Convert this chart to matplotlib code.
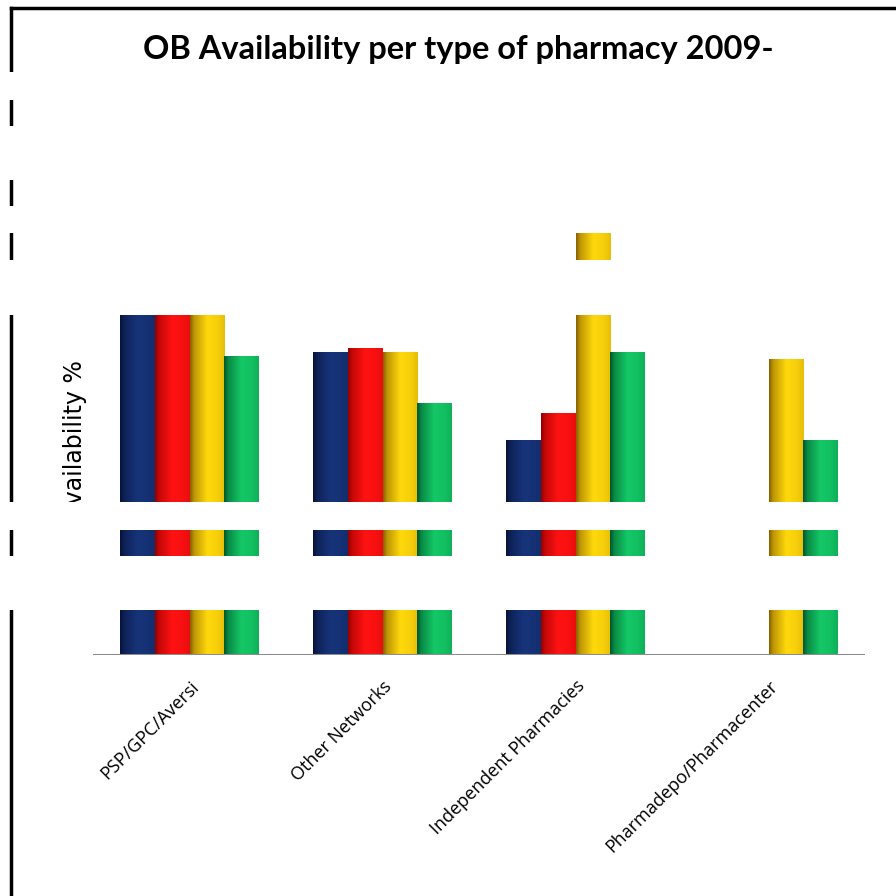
import numpy as np
import matplotlib
matplotlib.use("Agg")
import matplotlib.pyplot as plt
from matplotlib.colors import LinearSegmentedColormap
from matplotlib.patches import Rectangle
from matplotlib.lines import Line2D

categories = ["PSP/GPC/Aversi", "Other Networks", "Independent Pharmacies", "Pharmadepo/Pharmacenter"]
series_names = ["Series 1", "Series 2", "Series 3", "Series 4"]
series1 = [53.0, 46.8, 33.1, 0.0]
series2 = [53.0, 47.4, 37.4, 0.0]
series3 = [53.0, 46.8, 65.1, 45.6]
series4 = [46.1, 38.9, 46.7, 33.1]
title = "OB Availability per type of pharmacy 2009-"
ylabel = "Availability %"

W = H = 896
fig = plt.figure(figsize=(8.96, 8.96), dpi=100)
fig.patch.set_facecolor("white")


def fx(px):
    return px / W


def fy(py):
    return 1 - py / H


ax = fig.add_axes([fx(93), fy(655), fx(865) - fx(93), fy(8) - fy(655)])
ax.set_xlim(0, 4)
ax.set_ylim(0, 100)
for s in ax.spines.values():
    s.set_visible(False)
ax.set_yticks([])
ax.patch.set_alpha(0)

shades = [("#06133a", "#17347a"), ("#960000", "#ff1212"),
          ("#8a6200", "#ffd80c"), ("#00572a", "#14c866")]
prof_x = np.linspace(0, 1, 64)
prof = np.interp(prof_x, [0, 0.12, 0.5, 0.8, 1.0], [0.0, 0.45, 1.0, 0.92, 0.78])
grad = prof[np.newaxis, :]

series = [series1, series2, series3, series4]
nser = len(series)
bw = 0.725 / nser
centers = np.arange(len(categories)) + 0.5
for i, vals in enumerate(series):
    xs = centers - 0.725 / 2 + bw * (i + 0.5)
    bars = ax.bar(xs, vals, bw, color="none", edgecolor="none", label=series_names[i])
    cmap = LinearSegmentedColormap.from_list(f"c{i}", list(shades[i]))
    for r in bars:
        h = r.get_height()
        if h <= 0:
            continue
        x0 = r.get_x()
        ax.imshow(grad, extent=(x0, x0 + r.get_width(), 0, h), aspect="auto",
                  cmap=cmap, vmin=0, vmax=1, interpolation="bilinear", zorder=2)
ax.set_xlim(0, 4)
ax.set_ylim(0, 100)
ax.set_aspect("auto")
ax.axhline(0, color="#8c8c8c", lw=2.2, zorder=3)

ax.set_xticks(centers)
ax.set_xticklabels(categories, rotation=45, ha="right", rotation_mode="anchor",
                   fontsize=13, family="Open Sans")
ax.tick_params(axis="x", length=0, pad=16)

fig.text(fx(458), fy(50), title, ha="center", va="center", fontsize=23.5,
         fontweight="bold", family="Lato")
fig.text(fx(75), fy(440), ylabel, rotation=90, ha="center", va="center",
         fontsize=17, family="DejaVu Sans")

fig.add_artist(Line2D([fx(11), fx(11)], [fy(8), 0], color="black", lw=2.5))
fig.add_artist(Line2D([fx(11), 1], [fy(8), fy(8)], color="black", lw=2.5))

bands = [(72, 100), (126, 180), (206, 233), (260, 315), (502, 530), (556, 610)]
for a, b in bands:
    fig.add_artist(Rectangle((0, fy(b)), 1, fy(a) - fy(b), transform=fig.transFigure,
                             facecolor="white", edgecolor="none", zorder=20))

fig.savefig("out.png", dpi=100, facecolor="white")
